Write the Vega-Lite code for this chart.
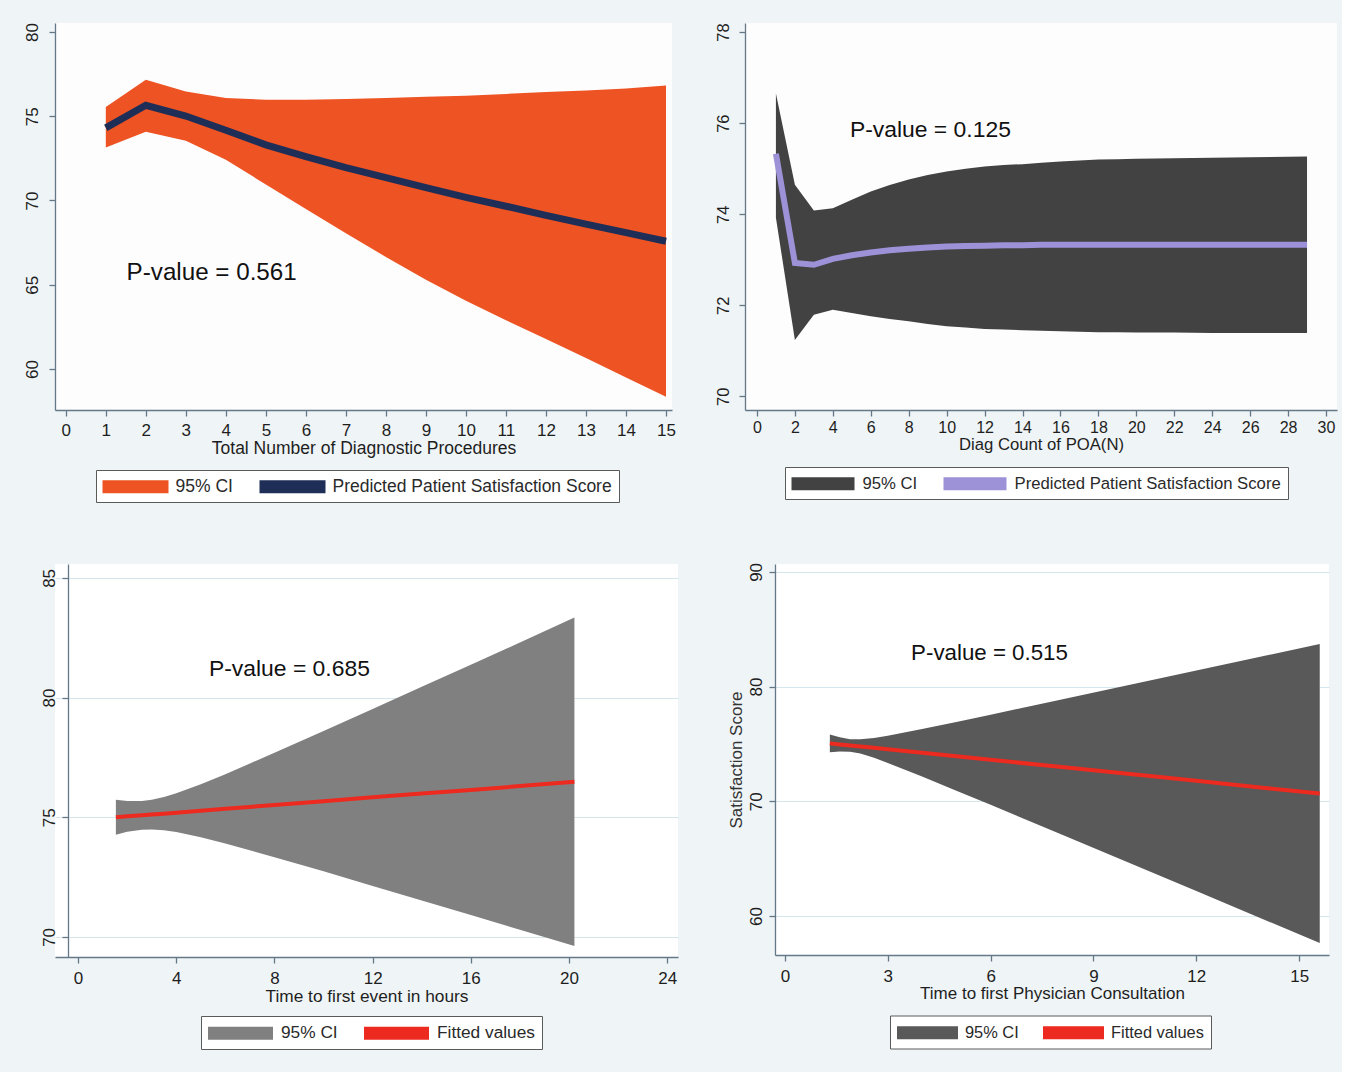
{
  "$schema": "https://vega.github.io/schema/vega-lite/v6.json",
  "background": "#eff4f6",
  "padding": {"left": 23, "top": 22, "right": 5, "bottom": 22},
  "config": {
    "view": {"stroke": null},
    "axis": {
      "domainColor": "#647887", "tickColor": "#647887", "domainWidth": 1.3, "tickWidth": 1.3, "tickSize": 6,
      "labelColor": "#1e1e1e", "titleColor": "#1e1e1e", "labelFont": "Liberation Sans", "titleFont": "Liberation Sans",
      "titleFontWeight": "normal", "labelFontSize": 17, "titleFontSize": 17, "grid": false,
      "labelFlush": false, "labelOverlap": false
    },
    "legend": {
      "labelFont": "Liberation Sans", "labelColor": "#2a2a2a", "strokeColor": "#5a5a5a", "fillColor": "#ffffff",
      "symbolSize": 400, "symbolStrokeWidth": 0, "symbolOpacity": 1, "direction": "horizontal", "orient": "none", "labelLimit": 500
    }
  },
  "datasets": {
    "p1": [
      {"x": 1, "lo": 73.14, "hi": 75.55, "fit": 74.31},
      {"x": 2, "lo": 74.08, "hi": 77.16, "fit": 75.65},
      {"x": 3, "lo": 73.55, "hi": 76.47, "fit": 75.01},
      {"x": 4, "lo": 72.42, "hi": 76.08, "fit": 74.17},
      {"x": 5, "lo": 70.95, "hi": 75.98, "fit": 73.3},
      {"x": 6, "lo": 69.5, "hi": 75.98, "fit": 72.6},
      {"x": 7, "lo": 68.05, "hi": 76.02, "fit": 71.95},
      {"x": 8, "lo": 66.65, "hi": 76.08, "fit": 71.36},
      {"x": 9, "lo": 65.3, "hi": 76.15, "fit": 70.76},
      {"x": 10, "lo": 64.05, "hi": 76.22, "fit": 70.19},
      {"x": 11, "lo": 62.9, "hi": 76.32, "fit": 69.66},
      {"x": 12, "lo": 61.78, "hi": 76.43, "fit": 69.12},
      {"x": 13, "lo": 60.65, "hi": 76.53, "fit": 68.6},
      {"x": 14, "lo": 59.5, "hi": 76.65, "fit": 68.09},
      {"x": 15, "lo": 58.35, "hi": 76.82, "fit": 67.58}
    ],
    "p2": [
      {"x": 1, "lo": 73.92, "hi": 76.65, "fit": 75.33},
      {"x": 2, "lo": 71.24, "hi": 74.65, "fit": 72.93},
      {"x": 3, "lo": 71.79, "hi": 74.08, "fit": 72.89},
      {"x": 4, "lo": 71.9, "hi": 74.13, "fit": 73.02},
      {"x": 5, "lo": 71.83, "hi": 74.32, "fit": 73.1},
      {"x": 6, "lo": 71.76, "hi": 74.5, "fit": 73.16},
      {"x": 7, "lo": 71.7, "hi": 74.64, "fit": 73.21},
      {"x": 8, "lo": 71.65, "hi": 74.76, "fit": 73.24},
      {"x": 9, "lo": 71.59, "hi": 74.86, "fit": 73.27},
      {"x": 10, "lo": 71.54, "hi": 74.94, "fit": 73.29},
      {"x": 11, "lo": 71.51, "hi": 75.0, "fit": 73.3},
      {"x": 12, "lo": 71.48, "hi": 75.05, "fit": 73.31},
      {"x": 13, "lo": 71.47, "hi": 75.08, "fit": 73.32},
      {"x": 14, "lo": 71.45, "hi": 75.1, "fit": 73.32},
      {"x": 15, "lo": 71.44, "hi": 75.13, "fit": 73.33},
      {"x": 16, "lo": 71.43, "hi": 75.16, "fit": 73.33},
      {"x": 17, "lo": 71.42, "hi": 75.18, "fit": 73.33},
      {"x": 18, "lo": 71.41, "hi": 75.2, "fit": 73.33},
      {"x": 19, "lo": 71.41, "hi": 75.21, "fit": 73.33},
      {"x": 20, "lo": 71.4, "hi": 75.22, "fit": 73.33},
      {"x": 22, "lo": 71.4, "hi": 75.23, "fit": 73.33},
      {"x": 24, "lo": 71.39, "hi": 75.24, "fit": 73.33},
      {"x": 26, "lo": 71.39, "hi": 75.25, "fit": 73.33},
      {"x": 29, "lo": 71.39, "hi": 75.27, "fit": 73.33}
    ],
    "p3": [
      {"x": 1.54, "lo": 74.27, "hi": 75.73, "fit": 75.0},
      {"x": 2, "lo": 74.39, "hi": 75.68, "fit": 75.04},
      {"x": 2.6, "lo": 74.48, "hi": 75.68, "fit": 75.08},
      {"x": 3, "lo": 74.49, "hi": 75.73, "fit": 75.11},
      {"x": 3.5, "lo": 74.46, "hi": 75.85, "fit": 75.15},
      {"x": 4, "lo": 74.38, "hi": 76.0, "fit": 75.19},
      {"x": 5, "lo": 74.16, "hi": 76.38, "fit": 75.27},
      {"x": 6, "lo": 73.9, "hi": 76.8, "fit": 75.35},
      {"x": 8, "lo": 73.33, "hi": 77.69, "fit": 75.51},
      {"x": 10, "lo": 72.74, "hi": 78.6, "fit": 75.67},
      {"x": 12, "lo": 72.13, "hi": 79.52, "fit": 75.83},
      {"x": 14, "lo": 71.52, "hi": 80.45, "fit": 75.99},
      {"x": 16, "lo": 70.91, "hi": 81.37, "fit": 76.14},
      {"x": 18, "lo": 70.3, "hi": 82.3, "fit": 76.3},
      {"x": 20.22, "lo": 69.62, "hi": 83.34, "fit": 76.48}
    ],
    "p4": [
      {"x": 1.31, "lo": 74.27, "hi": 75.83, "fit": 75.05},
      {"x": 1.6, "lo": 74.34, "hi": 75.58, "fit": 74.96},
      {"x": 1.9, "lo": 74.32, "hi": 75.42, "fit": 74.87},
      {"x": 2.2, "lo": 74.16, "hi": 75.4, "fit": 74.78},
      {"x": 2.6, "lo": 73.8, "hi": 75.52, "fit": 74.66},
      {"x": 3, "lo": 73.35, "hi": 75.71, "fit": 74.53},
      {"x": 4, "lo": 72.16, "hi": 76.3, "fit": 74.23},
      {"x": 5, "lo": 70.92, "hi": 76.92, "fit": 73.92},
      {"x": 6, "lo": 69.69, "hi": 77.55, "fit": 73.62},
      {"x": 8, "lo": 67.19, "hi": 78.83, "fit": 73.01},
      {"x": 10, "lo": 64.68, "hi": 80.12, "fit": 72.4},
      {"x": 12, "lo": 62.18, "hi": 81.4, "fit": 71.79},
      {"x": 14, "lo": 59.66, "hi": 82.68, "fit": 71.17},
      {"x": 15.6, "lo": 57.65, "hi": 83.71, "fit": 70.68}
    ],
    "t1": [{"x": 1.52, "y": 65.68, "label": "P-value = 0.561"}],
    "t2": [{"x": 4.9, "y": 75.85, "label": "P-value = 0.125"}],
    "t3": [{"x": 5.33, "y": 81.2, "label": "P-value = 0.685"}],
    "t4": [{"x": 3.68, "y": 82.94, "label": "P-value = 0.515"}]
  },
  "spacing": 59,
  "resolve": {"scale": {"color": "independent"}, "legend": {"color": "independent"}},
  "vconcat": [
    {
      "spacing": 35,
      "resolve": {"scale": {"color": "independent"}, "legend": {"color": "independent"}},
      "hconcat": [
        {
          "width": 617, "height": 387,
          "view": {"fill": "#fdfdfd", "stroke": null},
          "layer": [
            {
              "data": {"name": "p1"},
              "mark": {"type": "area", "opacity": 1},
              "encoding": {
                "x": {"field": "x", "type": "quantitative",
                  "scale": {"domain": [-0.27, 15.15], "nice": false, "zero": false},
                  "axis": {"title": "Total Number of Diagnostic Procedures", "values": [0,1,2,3,4,5,6,7,8,9,10,11,12,13,14,15], "labelOverlap": false, "labelPadding": 6, "titlePadding": 1, "titleFontSize": 17.5}},
                "y": {"field": "lo", "type": "quantitative",
                  "scale": {"domain": [57.57, 80.53], "nice": false, "zero": false},
                  "axis": {"title": null, "values": [60,65,70,75,80], "labelOverlap": false, "labelAngle": -90, "labelAlign": "center", "labelBaseline": "bottom", "labelPadding": 8}},
                "y2": {"field": "hi"},
                "color": {"datum": "95% CI", "type": "nominal",
                  "scale": {"domain": ["95% CI", "Predicted Patient Satisfaction Score"], "range": ["#ee5323", "#1f2e57"]},
                  "legend": {"title": null, "legendX": 41, "legendY": 447, "padding": 6.5, "labelFontSize": 17.5, "labelOffset": 53, "columnPadding": 26,
                    "symbolType": "M-1,-0.65H5.6V0.65H-1Z"}}
              }
            },
            {
              "data": {"name": "p1"},
              "mark": {"type": "line", "strokeWidth": 7},
              "encoding": {
                "x": {"field": "x", "type": "quantitative"},
                "y": {"field": "fit", "type": "quantitative"},
                "color": {"datum": "Predicted Patient Satisfaction Score", "type": "nominal"}
              }
            },
            {
              "data": {"name": "t1"},
              "mark": {"type": "text", "align": "left", "baseline": "middle", "font": "Liberation Sans", "fontSize": 24.2, "color": "#111111"},
              "encoding": {
                "x": {"field": "x", "type": "quantitative"},
                "y": {"field": "y", "type": "quantitative"},
                "text": {"field": "label"}
              }
            }
          ]
        },
        {
          "width": 592, "height": 387,
          "view": {"fill": "#fdfdfd", "stroke": null},
          "layer": [
            {
              "data": {"name": "p2"},
              "mark": {"type": "area", "opacity": 1},
              "encoding": {
                "x": {"field": "x", "type": "quantitative",
                  "scale": {"domain": [-0.63, 30.58], "nice": false, "zero": false},
                  "axis": {"title": "Diag Count of POA(N)", "values": [0,2,4,6,8,10,12,14,16,18,20,22,24,26,28,30], "tickCount": 16, "labelOverlap": false, "labelSeparation": -10, "labelPadding": 3.5, "titlePadding": 1, "labelFontSize": 16, "titleFontSize": 16.7}},
                "y": {"field": "lo", "type": "quantitative",
                  "scale": {"domain": [69.7, 78.2], "nice": false, "zero": false},
                  "axis": {"title": null, "values": [70,72,74,76,78], "labelOverlap": false, "labelAngle": -90, "labelAlign": "center", "labelBaseline": "bottom", "labelPadding": 8, "labelFontSize": 16.5}},
                "y2": {"field": "hi"},
                "color": {"datum": "95% CI", "type": "nominal",
                  "scale": {"domain": ["95% CI", "Predicted Patient Satisfaction Score"], "range": ["#424242", "#9d92d8"]},
                  "legend": {"title": null, "legendX": 40, "legendY": 444, "padding": 6.5, "labelFontSize": 16.7, "labelOffset": 51, "columnPadding": 26,
                    "symbolType": "M-1,-0.65H5.3V0.65H-1Z"}}
              }
            },
            {
              "data": {"name": "p2"},
              "mark": {"type": "line", "strokeWidth": 6},
              "encoding": {
                "x": {"field": "x", "type": "quantitative"},
                "y": {"field": "fit", "type": "quantitative"},
                "color": {"datum": "Predicted Patient Satisfaction Score", "type": "nominal"}
              }
            },
            {
              "data": {"name": "t2"},
              "mark": {"type": "text", "align": "left", "baseline": "middle", "font": "Liberation Sans", "fontSize": 22.9, "color": "#111111"},
              "encoding": {
                "x": {"field": "x", "type": "quantitative"},
                "y": {"field": "y", "type": "quantitative"},
                "text": {"field": "label"}
              }
            }
          ]
        }
      ]
    },
    {
      "spacing": 49,
      "resolve": {"scale": {"color": "independent"}, "legend": {"color": "independent"}},
      "hconcat": [
        {
          "width": 623, "height": 393,
          "view": {"fill": "#ffffff", "stroke": null},
          "layer": [
            {
              "data": {"name": "p3"},
              "mark": {"type": "area", "opacity": 1},
              "encoding": {
                "x": {"field": "x", "type": "quantitative",
                  "scale": {"domain": [-0.94, 24.44], "nice": false, "zero": false},
                  "axis": {"title": "Time to first event in hours", "values": [0,4,8,12,16,20,24], "labelOverlap": false, "labelPadding": 7.5, "titlePadding": 1, "titleFontSize": 17.3}},
                "y": {"field": "lo", "type": "quantitative",
                  "scale": {"domain": [69.16, 85.58], "nice": false, "zero": false},
                  "axis": {"title": null, "values": [70,75,80,85], "labelOverlap": false, "labelAngle": -90, "labelAlign": "center", "labelBaseline": "bottom", "labelPadding": 4,
                    "offset": -13, "grid": true, "gridColor": "#d6e6ed", "gridWidth": 1.2}},
                "y2": {"field": "hi"},
                "color": {"datum": "95% CI", "type": "nominal",
                  "scale": {"domain": ["95% CI", "Fitted values"], "range": ["#808080", "#ec2a1f"]},
                  "legend": {"title": null, "legendX": 146, "legendY": 452, "padding": 7, "labelFontSize": 17.3, "labelOffset": 53, "columnPadding": 26,
                    "symbolType": "M-1,-0.65H5.5V0.65H-1Z"}}
              }
            },
            {
              "data": {"name": "p3"},
              "mark": {"type": "line", "strokeWidth": 4},
              "encoding": {
                "x": {"field": "x", "type": "quantitative"},
                "y": {"field": "fit", "type": "quantitative"},
                "color": {"datum": "Fitted values", "type": "nominal"}
              }
            },
            {
              "data": {"name": "t3"},
              "mark": {"type": "text", "align": "left", "baseline": "middle", "font": "Liberation Sans", "fontSize": 22.9, "color": "#111111"},
              "encoding": {
                "x": {"field": "x", "type": "quantitative"},
                "y": {"field": "y", "type": "quantitative"},
                "text": {"field": "label"}
              }
            }
          ]
        },
        {
          "width": 554, "height": 391,
          "view": {"fill": "#ffffff", "stroke": null},
          "layer": [
            {
              "data": {"name": "p4"},
              "mark": {"type": "area", "opacity": 1},
              "encoding": {
                "x": {"field": "x", "type": "quantitative",
                  "scale": {"domain": [-0.29, 15.87], "nice": false, "zero": false},
                  "axis": {"title": "Time to first Physician Consultation", "values": [0,3,6,9,12,15], "labelOverlap": false, "labelPadding": 7, "titlePadding": 1, "titleFontSize": 17}},
                "y": {"field": "lo", "type": "quantitative",
                  "scale": {"domain": [56.6, 90.69], "nice": false, "zero": false},
                  "axis": {"title": "Satisfaction Score", "titlePadding": 2, "titleColor": "#333333", "values": [60,70,80,90], "labelOverlap": false, "labelAngle": -90, "labelAlign": "center", "labelBaseline": "bottom", "labelPadding": 4,
                    "grid": true, "gridColor": "#d6e6ed", "gridWidth": 1.2}},
                "y2": {"field": "hi"},
                "color": {"datum": "95% CI", "type": "nominal",
                  "scale": {"domain": ["95% CI", "Fitted values"], "range": ["#595959", "#ec2a1f"]},
                  "legend": {"title": null, "legendX": 115, "legendY": 451.5, "padding": 7, "labelFontSize": 16.4, "labelOffset": 48, "columnPadding": 24,
                    "symbolType": "M-1,-0.65H5.1V0.65H-1Z"}}
              }
            },
            {
              "data": {"name": "p4"},
              "mark": {"type": "line", "strokeWidth": 4},
              "encoding": {
                "x": {"field": "x", "type": "quantitative"},
                "y": {"field": "fit", "type": "quantitative"},
                "color": {"datum": "Fitted values", "type": "nominal"}
              }
            },
            {
              "data": {"name": "t4"},
              "mark": {"type": "text", "align": "left", "baseline": "middle", "font": "Liberation Sans", "fontSize": 22.3, "color": "#111111"},
              "encoding": {
                "x": {"field": "x", "type": "quantitative"},
                "y": {"field": "y", "type": "quantitative"},
                "text": {"field": "label"}
              }
            }
          ]
        }
      ]
    }
  ]
}
